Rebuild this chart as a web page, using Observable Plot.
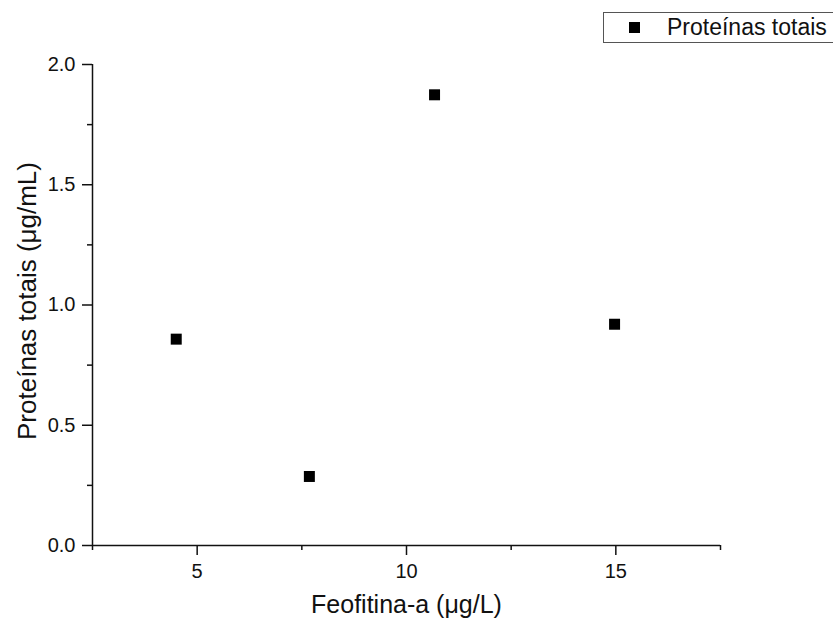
<!DOCTYPE html>
<html>
<head>
<meta charset="utf-8">
<script src="https://cdn.jsdelivr.net/npm/d3@7"></script>
<script src="https://cdn.jsdelivr.net/npm/@observablehq/plot@0.6"></script>
<style>
  html, body { margin: 0; padding: 0; background: #fff; overflow: hidden; }
  #wrap { position: relative; width: 833px; height: 621px; font-family: Arial, "Liberation Sans", sans-serif; }
  #legend { position: absolute; left: 603px; top: 12px; width: 260px; height: 31px; border: 1px solid #555; box-sizing: border-box; background: #fff; }
  #legend .sw { position: absolute; left: 25px; top: 9px; width: 11px; height: 11px; background: #000; }
  #legend .lb { position: absolute; left: 63px; top: 0px; line-height: 29px; font-size: 23px; color: #111; white-space: nowrap; }
</style>
</head>
<body>
<div id="wrap"></div>
<script>
const feofitina = [4.5, 7.68, 10.67, 14.97];
const proteinas = [0.858, 0.287, 1.874, 0.92];
const seriesName = "Proteínas totais";
const xLabel = "Feofitina-a (μg/L)";
const yLabel = "Proteínas totais (μg/mL)";
const xMajor = [5, 10, 15];
const xMinor = [2.5, 7.5, 12.5, 17.5];
const yMajor = [0, 0.5, 1.0, 1.5, 2.0];
const yMinor = [0.25, 0.75, 1.25, 1.75];

const data = feofitina.map((x, i) => ({x, y: proteinas[i]}));

const chart = Plot.plot({
  width: 833,
  height: 621,
  marginLeft: 92,
  marginRight: 113,
  marginTop: 64,
  marginBottom: 76,
  style: {fontFamily: 'Arial, "Liberation Sans", sans-serif', color: "#111", background: "#fff"},
  x: {domain: [2.5, 17.5]},
  y: {domain: [0, 2]},
  marks: [
    Plot.axisX({ticks: xMinor, tickSize: 5, tickFormat: () => "", strokeWidth: 1.5, label: null}),
    Plot.axisX({ticks: xMajor, tickSize: 10, tickPadding: 8, fontSize: 20, strokeWidth: 1.5, label: null}),
    Plot.axisY({ticks: yMinor, tickSize: 5, tickFormat: () => "", strokeWidth: 1.5, label: null}),
    Plot.axisY({ticks: yMajor, tickSize: 10, tickPadding: 7, fontSize: 20, tickFormat: d3.format(".1f"), strokeWidth: 1.5, label: null}),
    Plot.ruleY([0], {stroke: "#111", strokeWidth: 1.5}),
    Plot.ruleX([2.5], {stroke: "#111", strokeWidth: 1.5}),
    Plot.dot(data, {x: "x", y: "y", symbol: "square", r: 6.2, fill: "#000", stroke: "none"}),
    Plot.text([xLabel], {frameAnchor: "bottom", dy: 59, lineAnchor: "middle", textAnchor: "middle", fontSize: 25, fill: "#111"}),
    Plot.text([yLabel], {frameAnchor: "left", dx: -65, dy: -4, rotate: -90, lineAnchor: "middle", textAnchor: "middle", fontSize: 26, fill: "#111"})
  ]
});

const wrap = document.getElementById("wrap");
wrap.appendChild(chart);
const legend = document.createElement("div");
legend.id = "legend";
legend.innerHTML = `<div class="sw"></div><div class="lb"></div>`;
legend.querySelector(".lb").textContent = seriesName;
wrap.appendChild(legend);
</script>
</body>
</html>
